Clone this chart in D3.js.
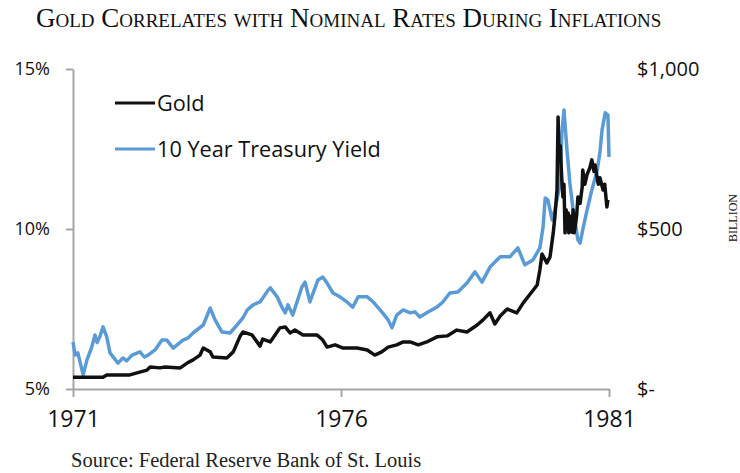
<style>
  body { margin: 0; }
</style>
<script src="https://d3js.org/d3.v7.min.js"></script>

<svg id="main_canvas" width=740 height=473></svg>

<script>
  "use strict";

  const WIDTH = 740;
  const HEIGHT = 473;
  const LEFT = 73;
  const RIGHT = 609;
  const TOP = 69;
  const BOTTOM = 389;
  const AXIS_GREY = "#a6a6a6";
  const BLUE = "#5b9bd5";
  const SANS = "'Open Sans', 'Noto Sans', sans-serif";
  const SERIF = "'Liberation Serif', 'DejaVu Serif', serif";

  // 10 year treasury yield, [year, percent]
  const treasury = [
    [1971.00, 6.47], [1971.04, 6.06], [1971.09, 6.13], [1971.19, 5.44], [1971.26, 5.91],
    [1971.35, 6.31], [1971.41, 6.69], [1971.45, 6.45], [1971.50, 6.63], [1971.56, 6.94],
    [1971.63, 6.63], [1971.69, 6.13], [1971.84, 5.81], [1971.93, 5.97], [1972.00, 5.88],
    [1972.10, 6.06], [1972.25, 6.16], [1972.33, 6.00], [1972.40, 6.06], [1972.53, 6.22],
    [1972.66, 6.53], [1972.75, 6.53], [1972.87, 6.28], [1973.05, 6.53], [1973.15, 6.60],
    [1973.24, 6.75], [1973.43, 7.00], [1973.56, 7.53], [1973.65, 7.16], [1973.78, 6.78],
    [1973.93, 6.75], [1974.06, 7.00], [1974.17, 7.22], [1974.25, 7.47], [1974.36, 7.63],
    [1974.49, 7.72], [1974.64, 8.09], [1974.68, 8.16], [1974.81, 7.88], [1974.90, 7.55],
    [1974.96, 7.38], [1975.01, 7.63], [1975.06, 7.45], [1975.10, 7.31], [1975.27, 8.19],
    [1975.33, 8.34], [1975.42, 7.72], [1975.57, 8.41], [1975.66, 8.50], [1975.74, 8.31],
    [1975.85, 8.00], [1975.98, 7.88], [1976.11, 7.72], [1976.22, 7.56], [1976.32, 7.88],
    [1976.49, 7.88], [1976.60, 7.72], [1976.76, 7.41], [1976.88, 7.16], [1976.95, 6.91],
    [1977.04, 7.31], [1977.16, 7.47], [1977.29, 7.38], [1977.38, 7.41], [1977.47, 7.25],
    [1977.60, 7.38], [1977.79, 7.56], [1977.90, 7.72], [1978.03, 8.00], [1978.18, 8.03],
    [1978.35, 8.31], [1978.50, 8.66], [1978.63, 8.34], [1978.78, 8.81], [1978.97, 9.13],
    [1979.15, 9.13], [1979.30, 9.41], [1979.43, 8.88], [1979.58, 9.03], [1979.71, 9.41],
    [1979.77, 10.06], [1979.81, 10.97], [1979.86, 10.91], [1979.94, 10.28], [1979.99, 10.59],
    [1980.09, 11.44], [1980.12, 13.00], [1980.16, 13.72], [1980.22, 12.38], [1980.27, 11.44],
    [1980.33, 10.59], [1980.42, 9.66], [1980.46, 9.56], [1980.51, 9.97], [1980.59, 10.59],
    [1980.68, 11.22], [1980.78, 11.84], [1980.83, 12.38], [1980.87, 13.09], [1980.93, 13.63],
    [1980.98, 13.56], [1981.00, 12.25]
  ];

  // gold price, [year, dollars]
  const gold = [
    [1971.00, 37], [1971.56, 37], [1971.63, 44], [1972.06, 44], [1972.38, 59],
    [1972.44, 69], [1972.62, 66], [1972.72, 69], [1973.00, 66], [1973.13, 81],
    [1973.24, 91], [1973.37, 106], [1973.43, 128], [1973.56, 116], [1973.61, 100],
    [1973.87, 97], [1973.99, 116], [1974.12, 166], [1974.17, 178], [1974.34, 169],
    [1974.49, 134], [1974.54, 156], [1974.68, 147], [1974.77, 169], [1974.86, 191],
    [1974.96, 194], [1975.05, 175], [1975.14, 184], [1975.29, 169], [1975.55, 169],
    [1975.66, 153], [1975.74, 131], [1975.89, 138], [1976.04, 128], [1976.30, 128],
    [1976.49, 122], [1976.63, 106], [1976.76, 116], [1976.88, 131], [1977.04, 138],
    [1977.16, 147], [1977.29, 147], [1977.44, 138], [1977.60, 147], [1977.79, 163],
    [1977.98, 166], [1978.16, 184], [1978.35, 178], [1978.54, 200], [1978.65, 216],
    [1978.78, 238], [1978.87, 203], [1978.97, 228], [1979.10, 250], [1979.28, 238],
    [1979.40, 269], [1979.53, 297], [1979.66, 325], [1979.71, 372], [1979.75, 422],
    [1979.84, 394], [1979.90, 413], [1979.96, 488], [1979.99, 538], [1980.03, 622],
    [1980.05, 850], [1980.07, 716], [1980.09, 760], [1980.12, 653], [1980.14, 600],
    [1980.16, 640], [1980.18, 488], [1980.20, 560], [1980.22, 500], [1980.24, 550],
    [1980.25, 488], [1980.28, 540], [1980.31, 490], [1980.33, 560], [1980.35, 488],
    [1980.38, 520], [1980.40, 550], [1980.42, 600], [1980.46, 580], [1980.50, 631],
    [1980.51, 684], [1980.55, 640], [1980.59, 670], [1980.64, 690], [1980.68, 716],
    [1980.72, 680], [1980.74, 700], [1980.80, 640], [1980.83, 660], [1980.89, 622],
    [1980.92, 640], [1980.96, 569], [1980.98, 591]
  ];

  const yearTicks = [1971, 1976, 1981];
  const rateTicks = [5, 10, 15];
  const goldTicks = [0, 500, 1000];

  const canvas = d3.select("#main_canvas")
    .attr("style", "background-color: white; display: block");

  const x = d3.scaleLinear().domain([1971, 1981]).range([LEFT, RIGHT]);
  const yRate = d3.scaleLinear().domain([5, 15]).range([BOTTOM, TOP]);
  const yGold = d3.scaleLinear().domain([0, 1000]).range([BOTTOM, TOP]);

  // Title
  canvas.append("text")
    .attr("x", 36)
    .attr("y", 27)
    .attr("font-family", SERIF)
    .attr("font-size", 27)
    .attr("font-variant", "small-caps")
    .attr("fill", "#111")
    .text("Gold Correlates with Nominal Rates During Inflations");

  // Left axis
  const leftAxis = canvas.append("g")
    .attr("transform", `translate(${LEFT},0)`)
    .call(d3.axisLeft(yRate).tickValues(rateTicks).tickFormat(d => d + "%")
      .tickSize(7).tickSizeOuter(0).tickPadding(16));

  // Bottom axis
  const bottomAxis = canvas.append("g")
    .attr("transform", `translate(0,${BOTTOM})`)
    .call(d3.axisBottom(x).tickValues(yearTicks).tickFormat(d3.format("d"))
      .tickSize(8).tickSizeOuter(0).tickPadding(14));

  // Right axis, labels only
  const rightAxis = canvas.append("g")
    .attr("transform", `translate(${RIGHT},0)`)
    .call(d3.axisRight(yGold).tickValues(goldTicks)
      .tickFormat(d => d === 0 ? "$-" : "$" + d3.format(",")(d))
      .tickSize(0).tickPadding(28));
  rightAxis.select(".domain").remove();

  [leftAxis, bottomAxis].forEach(g => {
    g.selectAll(".domain, line")
      .attr("stroke", AXIS_GREY)
      .attr("stroke-width", 2);
  });
  leftAxis.selectAll("text").attr("font-size", 18);
  bottomAxis.selectAll("text").attr("font-size", 23);
  rightAxis.selectAll("text").attr("font-size", 20);
  canvas.selectAll(".tick text")
    .attr("font-family", SANS)
    .attr("fill", "#111");

  // Lines
  const rateLine = d3.line().x(d => x(d[0])).y(d => yRate(d[1]));
  const goldLine = d3.line().x(d => x(d[0])).y(d => yGold(d[1]));

  canvas.append("path")
    .datum(treasury)
    .attr("d", rateLine)
    .attr("fill", "none")
    .attr("stroke", BLUE)
    .attr("stroke-width", 3.5)
    .attr("stroke-linejoin", "round");

  canvas.append("path")
    .datum(gold)
    .attr("d", goldLine)
    .attr("fill", "none")
    .attr("stroke", "#111")
    .attr("stroke-width", 3.5)
    .attr("stroke-linejoin", "round");

  // Legend
  const legendItems = [
    { label: "Gold", color: "#111", y: 103 },
    { label: "10 Year Treasury Yield", color: BLUE, y: 149 }
  ];
  const legend = canvas.selectAll(".legend")
    .data(legendItems)
    .enter()
    .append("g")
    .attr("class", "legend")
    .attr("transform", d => `translate(115,${d.y})`);
  legend.append("line")
    .attr("x1", 0)
    .attr("x2", 40)
    .attr("stroke", d => d.color)
    .attr("stroke-width", 3);
  legend.append("text")
    .attr("x", 42)
    .attr("dy", "0.35em")
    .attr("font-family", SANS)
    .attr("font-size", 21.7)
    .attr("fill", "#111")
    .text(d => d.label);

  // Right side unit
  canvas.append("text")
    .attr("transform", "translate(737,218) rotate(-90)")
    .attr("text-anchor", "middle")
    .attr("font-family", SERIF)
    .attr("font-size", 12)
    .attr("fill", "#111")
    .text("BILLION");

  // Source
  canvas.append("text")
    .attr("x", 71)
    .attr("y", 467)
    .attr("font-family", SERIF)
    .attr("font-size", 20.5)
    .attr("fill", "#222")
    .text("Source: Federal Reserve Bank of St. Louis");
</script>
